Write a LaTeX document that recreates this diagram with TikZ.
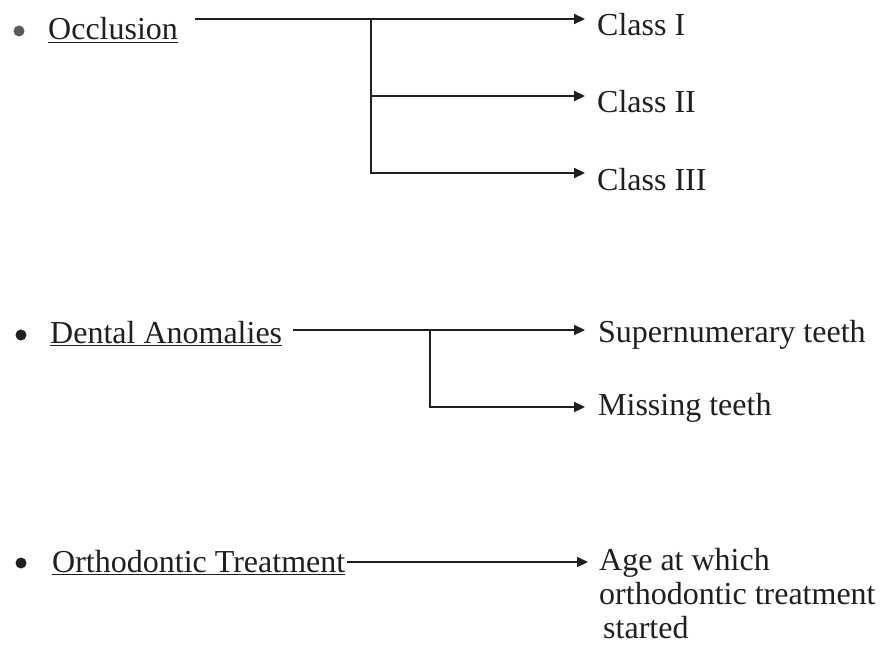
\documentclass[tikz,border=0pt]{standalone}
\usepackage{fontspec}
\setmainfont{Liberation Serif}
\usetikzlibrary{arrows.meta}
\colorlet{inkgray}{black!88}
\tikzstyle{topic} = [%
	anchor=base west,
	inner sep=0pt,
	text=inkgray,
	font=\fontsize{32}{34}\selectfont
]
\tikzstyle{item} = [%
	topic,
	align=left
]
\tikzstyle{bullet dot} = [%
	circle,
	fill=inkgray,
	inner sep=0pt,
	minimum size=11pt
]
\tikzstyle{branch} = [%
	draw=inkgray,
	line width=2.2pt
]
\tikzstyle{branch arrow} = [%
	branch,
	-{Triangle[length=11pt,width=10pt]}
]

\begin{document}
\begin{tikzpicture}[x=1pt, y=-1pt]
\useasboundingbox (0,0) rectangle (886,650);

% occlusion and its three classes
\node[bullet dot, fill=black!65] (occl dot) at (19,31) {};
\node[topic] (occl) at (48,40) {\underline{Occlusion}};
\node[item] (cls1) at (597,36) {Class I};
\node[item] (cls2) at (597,113) {Class II};
\node[item] (cls3) at (597,190) {Class III};
\coordinate (cls1 in) at ([xshift=-12pt, yshift=17pt] cls1.base west);
\coordinate (cls2 in) at ([xshift=-12pt, yshift=17pt] cls2.base west);
\coordinate (cls3 in) at ([xshift=-12pt, yshift=17pt] cls3.base west);
\coordinate (occl fork) at (371,0);
\draw[branch arrow] ([xshift=17pt] occl.east|-cls1 in) -- (cls1 in);
\draw[branch arrow] (occl fork|-cls1 in) |- (cls3 in);
\draw[branch arrow] (occl fork|-cls2 in) -- (cls2 in);

% dental anomalies
\node[bullet dot] (dent dot) at (21,335) {};
\node[topic] (dent) at (50,343) {\underline{Dental Anomalies}};
\node[item] (super) at (598,342) {Supernumerary teeth};
\node[item] (miss) at (598,415) {Missing teeth};
\coordinate (super in) at ([xshift=-13pt, yshift=12pt] super.base west);
\coordinate (miss in) at ([xshift=-13pt, yshift=8pt] miss.base west);
\coordinate (dent fork) at (430,0);
\draw[branch arrow] ([xshift=11pt] dent.east|-super in) -- (super in);
\draw[branch arrow] (dent fork|-super in) |- (miss in);

% orthodontic treatment (base of the node is its last line)
\node[bullet dot] (orth dot) at (21,563) {};
\node[topic] (orth) at (52,572) {\underline{Orthodontic Treatment}};
\node[item] (age) at (599,638) {Age at which\\orthodontic treatment\\\hspace*{4pt}started};
\coordinate (age row) at (orth.base-|age.west);
\draw[branch arrow] ([xshift=2pt] orth.east|-age row) ++(0,-10) -- ([xshift=-11pt, yshift=10pt] age row);

\end{tikzpicture}
\end{document}
